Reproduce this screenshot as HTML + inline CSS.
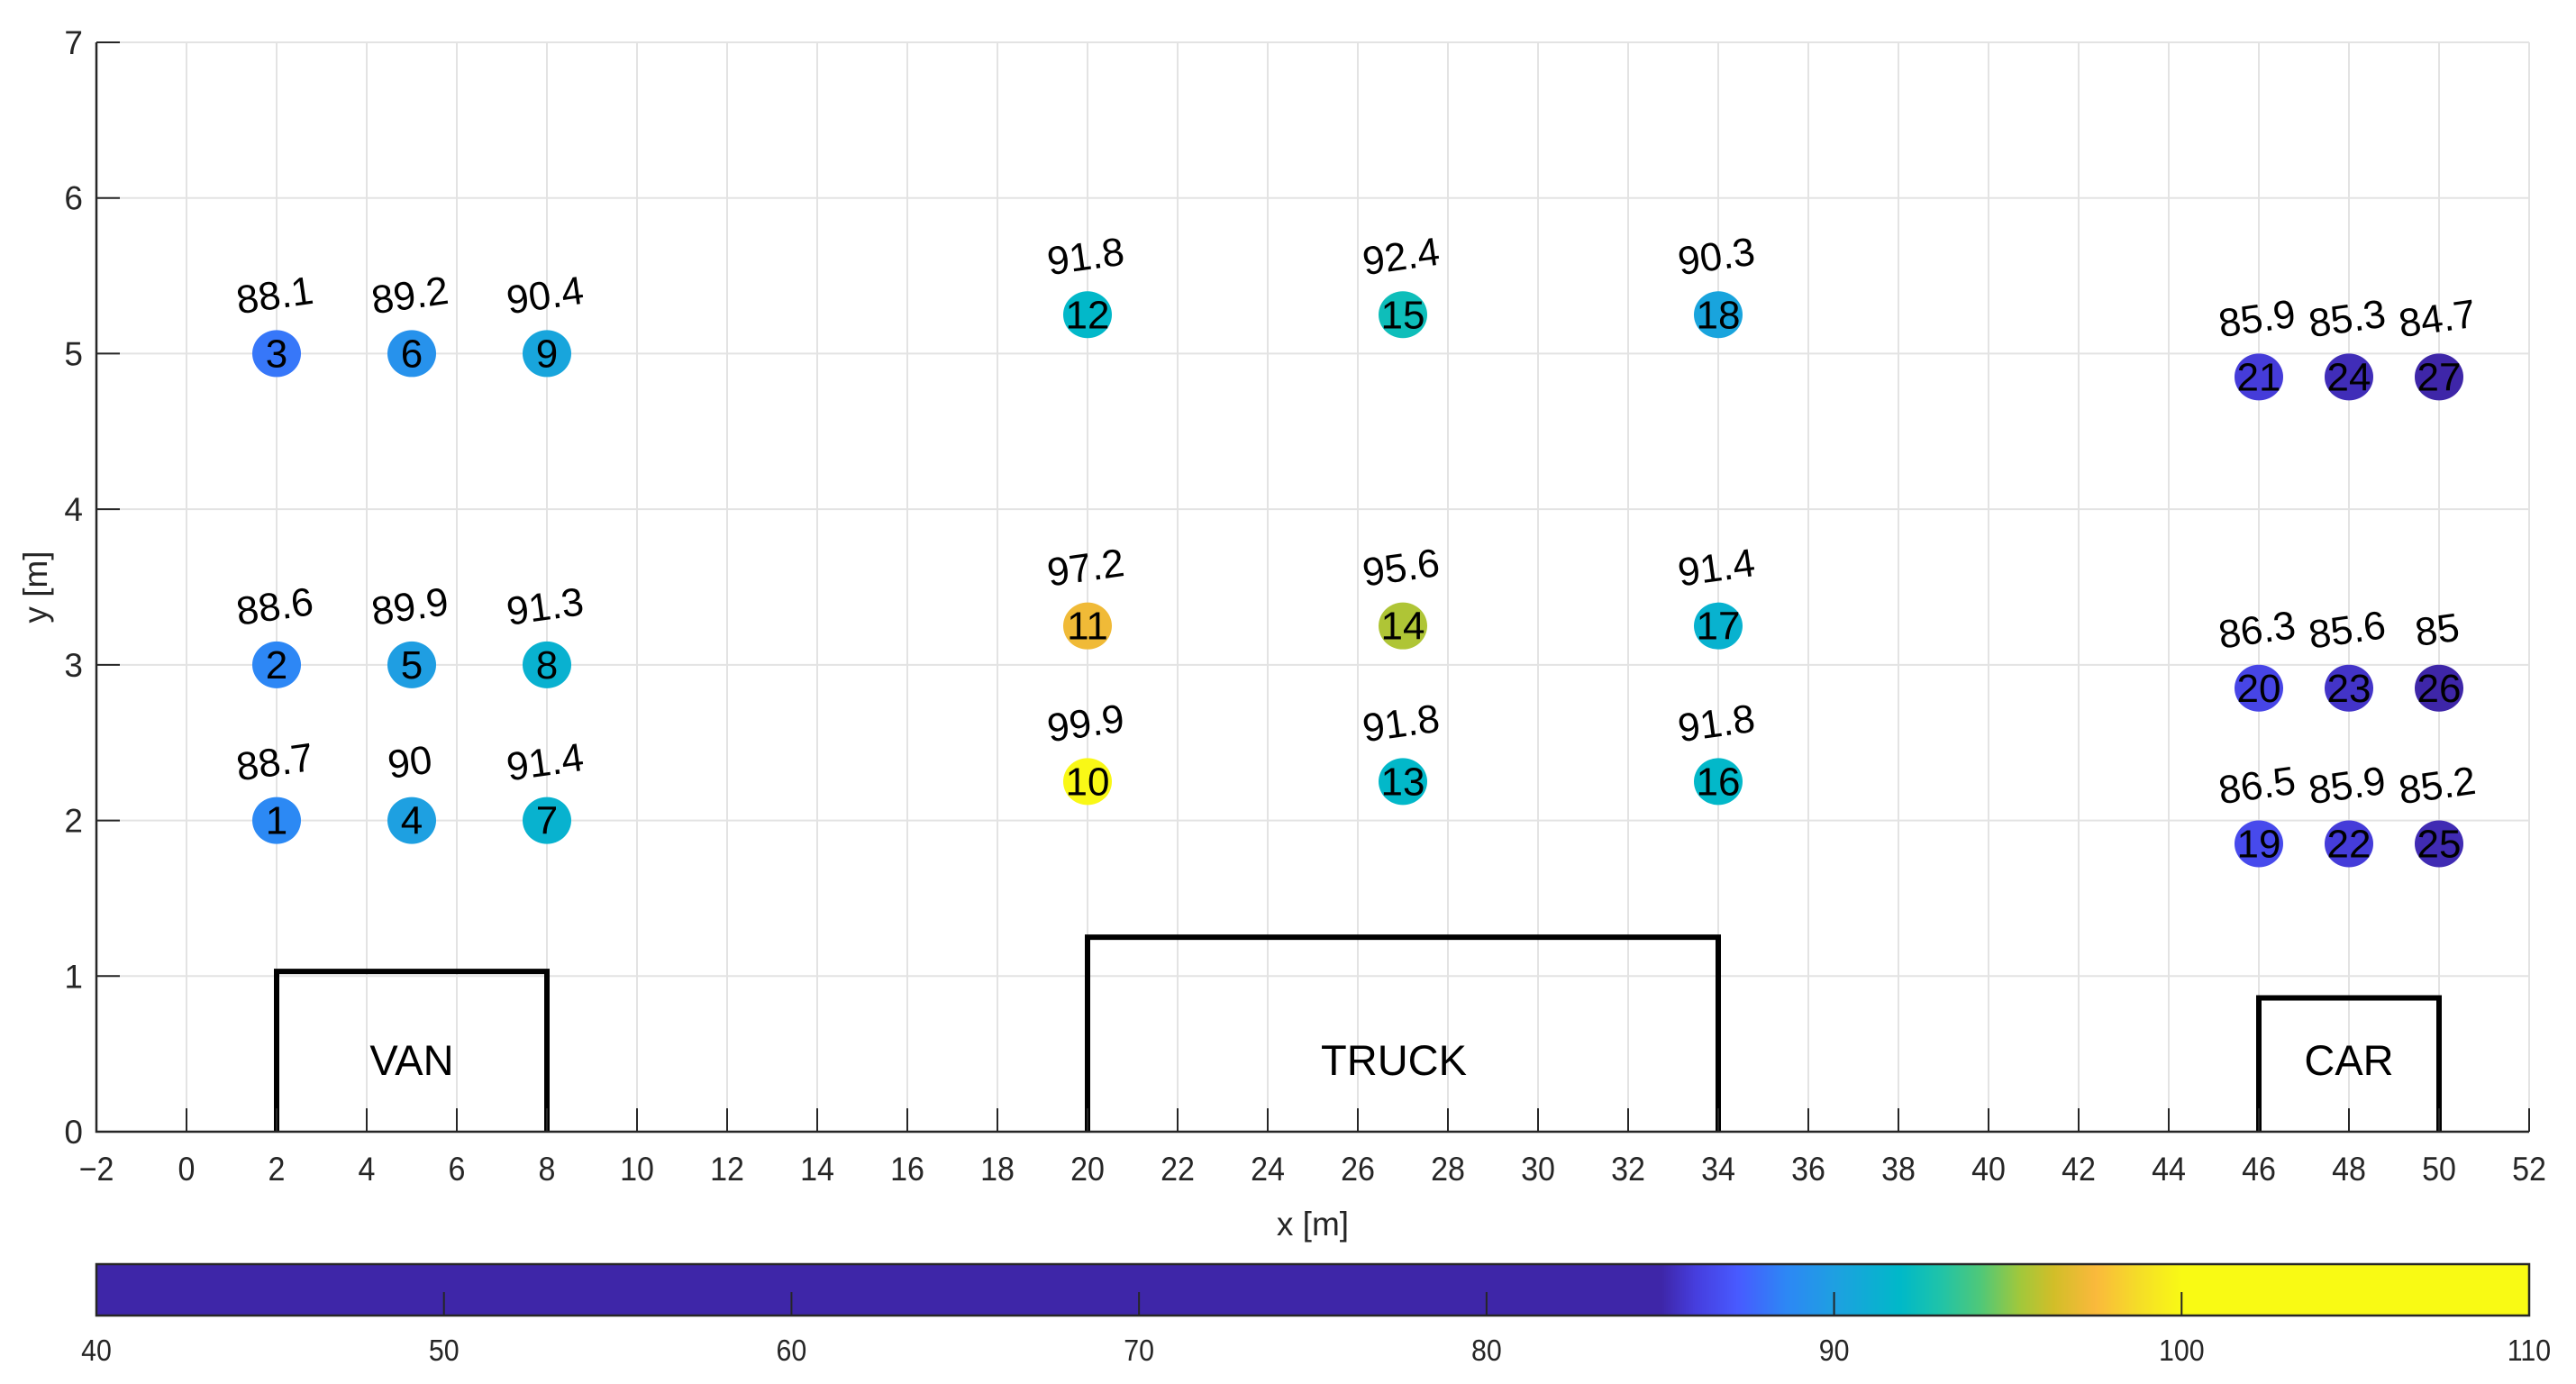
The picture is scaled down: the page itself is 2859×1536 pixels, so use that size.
<!DOCTYPE html>
<html><head><meta charset="utf-8"><style>
html,body{margin:0;padding:0;background:#fff;}
svg{display:block;font-family:"Liberation Sans",Arial,sans-serif;}
</style></head><body>
<svg id="chart" width="2859" height="1536" viewBox="0 0 2859 1536" xmlns="http://www.w3.org/2000/svg">
<rect width="2859" height="1536" fill="#fff"/>
<g id="grid"></g>
<g id="vehicles"></g>
<g id="axes"></g>
<g id="points"></g>
<g id="colorbar"></g>
</svg>
<script>
const ids = [1,2,3,4,5,6,7,8,9,10,11,12,13,14,15,16,17,18,19,20,21,22,23,24,25,26,27];
const xs = [2,2,2,5,5,5,8,8,8,20,20,20,27,27,27,34,34,34,46,46,46,48,48,48,50,50,50];
const ys = [2,3,5,2,3,5,2,3,5,2.25,3.25,5.25,2.25,3.25,5.25,2.25,3.25,5.25,1.85,2.85,4.85,1.85,2.85,4.85,1.85,2.85,4.85];
const vals = [88.7,88.6,88.1,90,89.9,89.2,91.4,91.3,90.4,99.9,97.2,91.8,91.8,95.6,92.4,91.8,91.4,90.3,86.5,86.3,85.9,85.9,85.6,85.3,85.2,85,84.7];
const vehNames = ["VAN","TRUCK","CAR"];
const vehX0 = [2,20,46];
const vehX1 = [8,34,50];
const vehTop = [1.03,1.25,0.86];
const vehLabelX = [5,26.8,48];
const xTicks = [-2,0,2,4,6,8,10,12,14,16,18,20,22,24,26,28,30,32,34,36,38,40,42,44,46,48,50,52];
const yTicks = [0,1,2,3,4,5,6,7];
const cbTicks = [40,50,60,70,80,90,100,110];
const cmapVals = [85,86,87.2,88.6,90,91.9,93,94.2,95.3,96.3,97.5,98.7,100];
const cmapCols = [[62,38,168],[70,62,222],[72,90,255],[45,135,245],[30,160,225],[0,185,200],[30,195,170],[80,200,120],[160,200,60],[210,190,40],[250,185,60],[245,220,40],[249,250,20]];

const NS="http://www.w3.org/2000/svg";
const L=107,R=2807,B=1256,T=47;
const sx=v=>L+(v-(-2))/54*(R-L);
const sy=v=>B-(v/7)*(B-T);
const cbL=107,cbR=2807,cbT=1403,cbB=1460;
const cx=v=>cbL+(v-40)/70*(cbR-cbL);
function el(tag,attrs,parent){const e=document.createElementNS(NS,tag);for(const k in attrs)e.setAttribute(k,attrs[k]);parent.appendChild(e);return e;}
function cmap(v){
  if(v<=cmapVals[0])return cmapCols[0];
  for(let i=1;i<cmapVals.length;i++){if(v<=cmapVals[i]){const t=(v-cmapVals[i-1])/(cmapVals[i]-cmapVals[i-1]);return cmapCols[i-1].map((c,j)=>Math.round(c+(cmapCols[i][j]-c)*t));}}
  return cmapCols[cmapCols.length-1];
}
const rgb=c=>`rgb(${c[0]},${c[1]},${c[2]})`;
const grid=document.getElementById('grid'),axes=document.getElementById('axes'),veh=document.getElementById('vehicles'),pts=document.getElementById('points'),cb=document.getElementById('colorbar');

xTicks.forEach(t=>{
  let g=el('line',{x1:sx(t),x2:sx(t),y1:T,y2:B,stroke:'#e3e3e3','stroke-width':2},grid);
  
  let k=el('line',{x1:sx(t),x2:sx(t),y1:B,y2:B-26,stroke:'#262626','stroke-width':2},axes);
  
  let lb=el('text',{x:0,y:0,'font-size':37,fill:'#262626','text-anchor':'middle',transform:`translate(${sx(t)},1310) scale(0.92,1)`},axes);
  lb.textContent=t<0?'\u2212'+(-t):String(t);
  
});
yTicks.forEach(t=>{
  let g=el('line',{x1:L,x2:R,y1:sy(t),y2:sy(t),stroke:'#e3e3e3','stroke-width':2},grid);
  
  let k=el('line',{x1:L,x2:L+26,y1:sy(t),y2:sy(t),stroke:'#262626','stroke-width':2},axes);
  
  let lb=el('text',{x:92,y:sy(t)+13,'font-size':37,fill:'#262626','text-anchor':'end'},axes);
  lb.textContent=String(t);
  
});
let ax=el('path',{d:`M${L},${T} L${L},${B} L${R},${B}`,fill:'none',stroke:'#262626','stroke-width':2.5},axes);

let xl=el('text',{x:(L+R)/2,y:1371,'font-size':37,fill:'#262626','text-anchor':'middle'},axes);
xl.textContent='x [m]';
let yl=el('text',{x:0,y:0,'font-size':37,fill:'#262626','text-anchor':'middle',transform:`translate(52,${(T+B)/2}) rotate(-90)`},axes);
yl.textContent='y [m]';

vehNames.forEach((n,i)=>{
  let p=el('path',{d:`M${sx(vehX0[i])},${B} L${sx(vehX0[i])},${sy(vehTop[i])} L${sx(vehX1[i])},${sy(vehTop[i])} L${sx(vehX1[i])},${B}`,fill:'none',stroke:'#000','stroke-width':6},veh);
  
  let t=el('text',{x:sx(vehLabelX[i]),y:1193,'font-size':47,fill:'#000','text-anchor':'middle'},veh);
  t.textContent=n;
});

ids.forEach((id,i)=>{
  const px=sx(xs[i]),py=sy(ys[i]);
  let c=el('ellipse',{cx:px,cy:py,rx:27,ry:26,fill:rgb(cmap(vals[i]))},pts);
  
  let n=el('text',{x:px,y:py+15,'font-size':44,fill:'#000','text-anchor':'middle'},pts);
  n.textContent=String(id);
  let v=el('text',{x:0,y:0,'font-size':44,fill:'#000','text-anchor':'middle',transform:`translate(${px},${py-50}) rotate(-8)`},pts);
  v.textContent=String(vals[i]);
});

for(let x=cbL;x<cbR;x+=2){
  const v=40+(x-cbL)/(cbR-cbL)*70;
  let r=el('rect',{x:x,y:cbT,width:2.6,height:cbB-cbT,fill:rgb(cmap(v))},cb);
  
}
let bx=el('rect',{x:cbL,y:cbT,width:cbR-cbL,height:cbB-cbT,fill:'none',stroke:'#262626','stroke-width':2.5},cb);

cbTicks.forEach(t=>{
  let k=el('line',{x1:cx(t),x2:cx(t),y1:cbB,y2:cbB-26,stroke:'#262626','stroke-width':2},cb);
  
  let lb=el('text',{x:0,y:0,'font-size':33,fill:'#262626','text-anchor':'middle',transform:`translate(${cx(t)},1510) scale(0.92,1)`},cb);
  lb.textContent=String(t);
});
</script>
</body></html>
